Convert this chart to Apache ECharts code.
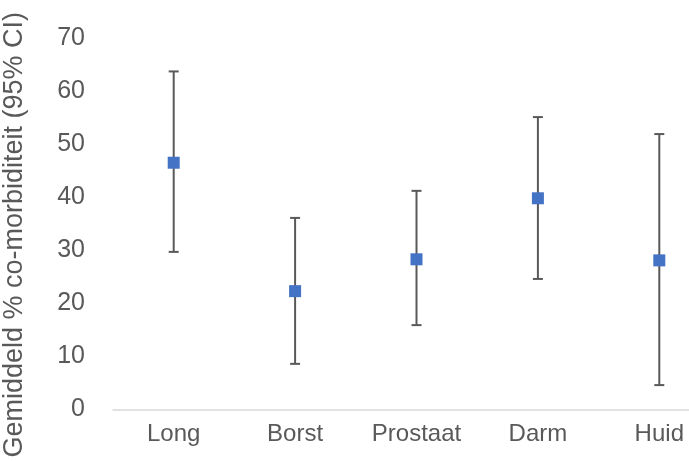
<!DOCTYPE html>
<html>
<head>
<meta charset="utf-8">
<script src="https://cdn.jsdelivr.net/npm/echarts@6/dist/echarts.min.js"></script>
<style>
  html, body { margin: 0; padding: 0; background: #fff; }
  #chart { width: 689px; height: 461px; }
</style>
</head>
<body>
<div id="chart"></div>
<script>
var categories = ['Long', 'Borst', 'Prostaat', 'Darm', 'Huid']
var meanValues = [46.5, 22.3, 28.3, 39.8, 28.1]
var lowerValues = [29.7, 8.6, 15.9, 24.6, 4.6]
var upperValues = [63.7, 36.1, 41.2, 55.1, 51.9]
var yTicks = [0, 10, 20, 30, 40, 50, 60, 70]

var errorData = categories.map(function (c, i) {
  return [i, lowerValues[i], upperValues[i]]
})

var chart = echarts.init(document.getElementById('chart'))

var option = {
  animation: false,
  textStyle: { fontFamily: 'Liberation Sans' },
  grid: {
    left: 113,
    top: 38,
    right: -31,
    bottom: 51.5,
    outerBoundsMode: 'none',
    containLabel: false
  },
  xAxis: {
    type: 'category',
    data: categories,
    boundaryGap: true,
    axisLine: { lineStyle: { color: '#D9D9D9', width: 1.5 } },
    axisTick: { show: false },
    axisLabel: { color: '#595959', fontSize: 24, margin: 13, interval: 0 }
  },
  yAxis: {
    type: 'value',
    min: yTicks[0],
    max: yTicks[yTicks.length - 1],
    interval: 10,
    name: 'Gemiddeld % co-morbiditeit (95% CI)',
    nameLocation: 'middle',
    nameGap: 85,
    nameTextStyle: { color: '#595959', fontSize: 27, padding: [0, 22, 0, 0] },
    axisLine: { show: false },
    axisTick: { show: false },
    splitLine: { show: false },
    axisLabel: { color: '#595959', fontSize: 25, margin: 28 }
  },
  series: [
    {
      type: 'custom',
      data: errorData,
      z: 1,
      renderItem: function (params, api) {
        var lo = api.coord([api.value(0), api.value(1)])
        var hi = api.coord([api.value(0), api.value(2)])
        var half = 5
        var style = { stroke: '#595959', lineWidth: 2 }
        return {
          type: 'group',
          children: [
            { type: 'line', shape: { x1: hi[0], y1: hi[1], x2: lo[0], y2: lo[1] }, style: style },
            { type: 'line', shape: { x1: hi[0] - half, y1: hi[1], x2: hi[0] + half, y2: hi[1] }, style: style },
            { type: 'line', shape: { x1: lo[0] - half, y1: lo[1], x2: lo[0] + half, y2: lo[1] }, style: style }
          ]
        }
      }
    },
    {
      type: 'scatter',
      data: meanValues,
      z: 3,
      symbol: 'rect',
      symbolSize: 12,
      itemStyle: { color: '#4472C4', opacity: 1 }
    }
  ]
}

chart.setOption(option)
</script>
</body>
</html>
